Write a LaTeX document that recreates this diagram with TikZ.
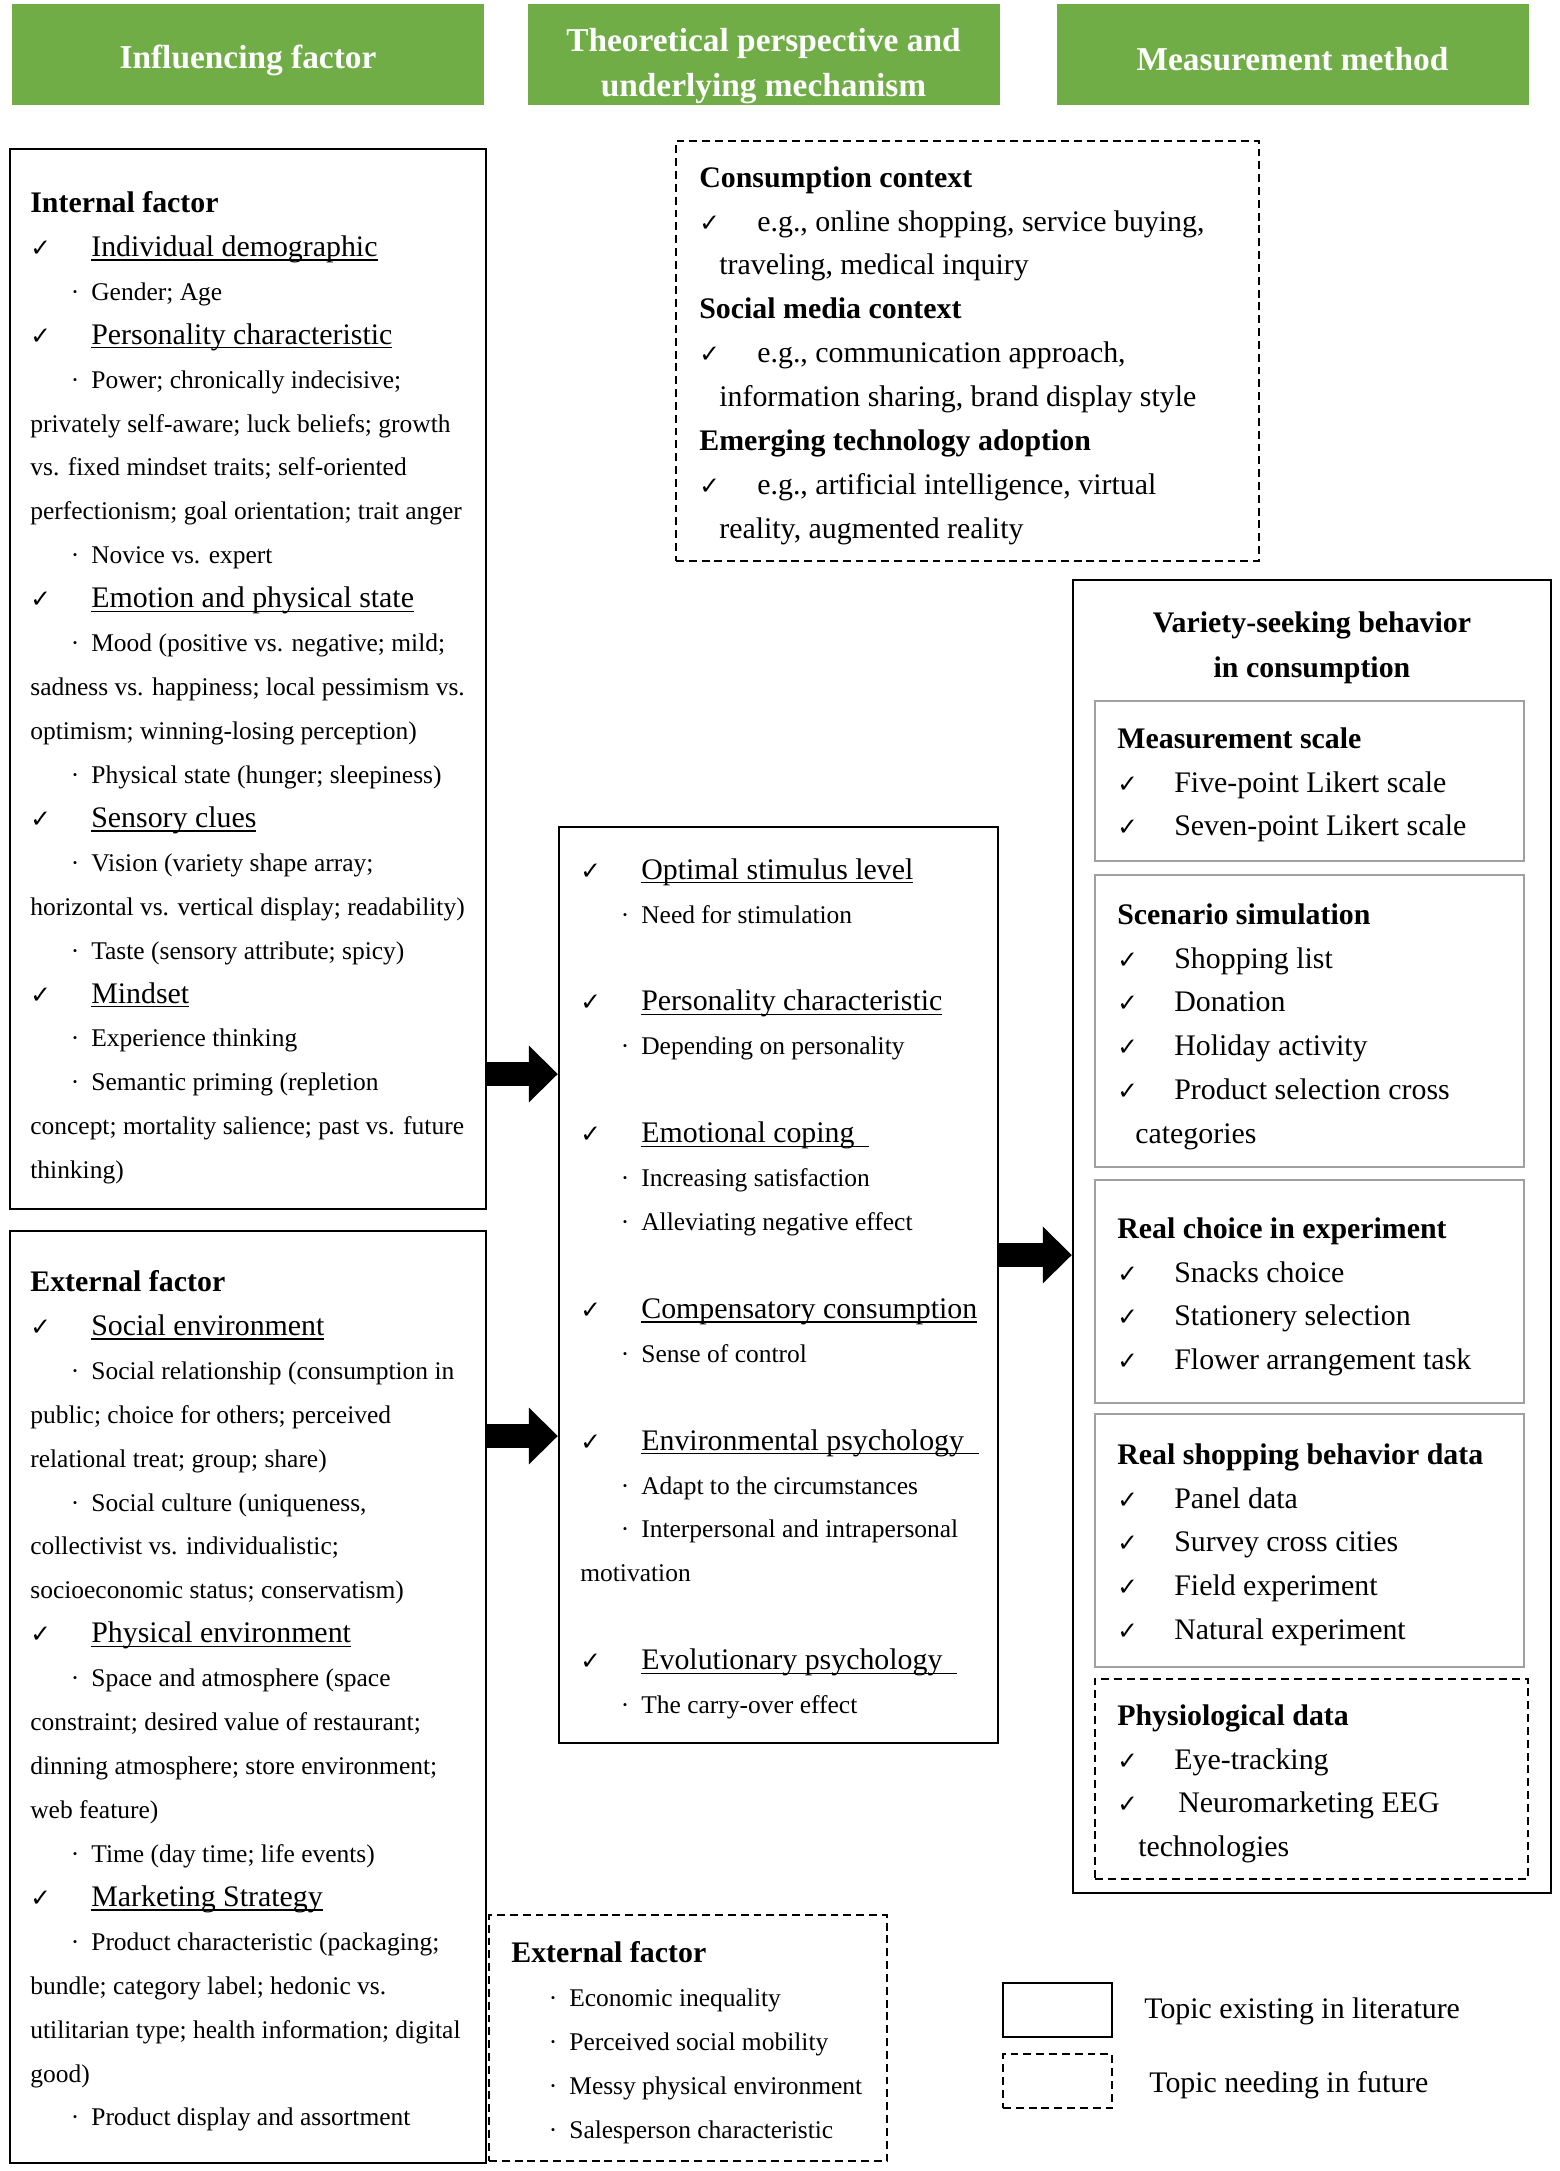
\documentclass[tikz,border=0pt]{standalone}
\usepackage{fontspec}
\setmainfont{Liberation Serif}
\newfontfamily\chkfont{DejaVu Sans}
\usetikzlibrary{fit,arrows.meta}
\definecolor{hdrgreen}{RGB}{112,173,71}
\definecolor{subgray}{RGB}{160,160,160}
\newlength\pxu
\setlength\pxu{0.02cm}
\newsavebox\undlbox
% check mark item, dot item, larger heading text, underline
\newcommand{\undl}[1]{\sbox\undlbox{#1}\rlap{\rule[-2.4pt]{\wd\undlbox}{0.75pt}}\usebox\undlbox}
\newcommand{\ck}[2][61]{\makebox[#1\pxu][l]{\chkfont\fontsize{14}{25}\selectfont ✓}#2}
\newcommand{\bu}[2][61]{\makebox[#1\pxu][r]{·\hspace{12\pxu}}#2}
\newcommand{\hd}[1]{{\fontsize{17}{25}\selectfont #1}}
\newcommand{\uhd}[1]{{\fontsize{17}{25}\selectfont\undl{#1}}}
\tikzset{
  hdr/.style={fill=hdrgreen, text=white, inner sep=0pt, align=center,
    minimum width=472\pxu, minimum height=101\pxu,
    font=\bfseries\fontsize{19}{25.6}\selectfont,
    execute at begin node=\rule{0pt}{#1}},
  hdr/.default=19pt,
  litbox/.style={draw, line width=1.3pt, inner sep=0pt},
  futbox/.style={draw, line width=1.4pt, dash pattern=on 4.5pt off 2.8pt, inner sep=0pt},
  subbox/.style={draw=subgray, line width=1.5pt, inner sep=0pt},
  txt/.style={anchor=north west, inner sep=0pt, align=left,
    font=\fontsize{14.5}{25}\selectfont, execute at begin node=\strut},
  txtl/.style={txt, font=\fontsize{17}{25}\selectfont},
  bigarrow/.style={line width=14.2pt, -{Triangle[length=16.5pt,width=31.3pt]}}
}
\begin{document}
\begin{tikzpicture}[x=0.02cm,y=-0.02cm]
\useasboundingbox (0,0) rectangle (1559,2171);

% column headers
\node[hdr=20pt] (hIF) at (248,54.5) {Influencing factor};
\node[hdr] (hTP) at (763.5,54.5) {\rule{0pt}{26pt}Theoretical perspective and\\underlying mechanism};
\node[hdr] (hMM) at (1292.5,54.5) {Measurement method};

% influencing factors
\node[litbox, fit={(10,149) (486,1209)}] (intbox) {};
\node[txt] (inttxt) at (30,191) {\hd{\bfseries Internal factor}\\
\ck{\uhd{Individual demographic}}\\
\bu{Gender; Age}\\
\ck{\uhd{Personality characteristic}}\\
\bu{Power; chronically indecisive;}\\
privately self-aware; luck beliefs; growth\\
vs. fixed mindset traits; self-oriented\\
perfectionism; goal orientation; trait anger\\
\bu{Novice vs. expert}\\
\ck{\uhd{Emotion and physical state}}\\
\bu{Mood (positive vs. negative; mild;}\\
sadness vs. happiness; local pessimism vs.\\
optimism; winning-losing perception)\\
\bu{Physical state (hunger; sleepiness)}\\
\ck{\uhd{Sensory clues}}\\
\bu{Vision (variety shape array;}\\
horizontal vs. vertical display; readability)\\
\bu{Taste (sensory attribute; spicy)}\\
\ck{\uhd{Mindset}}\\
\bu{Experience thinking}\\
\bu{Semantic priming (repletion}\\
concept; mortality salience; past vs. future\\
thinking)};

\node[litbox, fit={(10,1231) (486,2163)}] (extbox) {};
\node[txt] (exttxt) at (30,1270) {\hd{\bfseries External factor}\\
\ck{\uhd{Social environment}}\\
\bu{Social relationship (consumption in}\\
public; choice for others; perceived\\
relational treat; group; share)\\
\bu{Social culture (uniqueness,}\\
collectivist vs. individualistic;\\
socioeconomic status; conservatism)\\
\ck{\uhd{Physical environment}}\\
\bu{Space and atmosphere (space}\\
constraint; desired value of restaurant;\\
dinning atmosphere; store environment;\\
web feature)\\
\bu{Time (day time; life events)}\\
\ck{\uhd{Marketing Strategy}}\\
\bu{Product characteristic (packaging;}\\
bundle; category label; hedonic vs.\\
utilitarian type; health information; digital\\
good)\\
\bu{Product display and assortment}};

\node[futbox, fit={(489,1915) (887,2161)}] (futext) {};
\node[txt] (futexttxt) at (511,1941) {\hd{\bfseries External factor}\\
\bu[58]{Economic inequality}\\
\bu[58]{Perceived social mobility}\\
\bu[58]{Messy physical environment}\\
\bu[58]{Salesperson characteristic}};

% context and mechanisms
\node[futbox, fit={(676,141) (1259,561)}] (ctxbox) {};
\node[txtl] (ctxtxt) at (699,166) {\textbf{Consumption context}\\
\ck[58]{e.g., online shopping, service buying,}\\
\hspace*{20\pxu}traveling, medical inquiry\\
\textbf{Social media context}\\
\ck[58]{e.g., communication approach,}\\
\hspace*{20\pxu}information sharing, brand display style\\
\textbf{Emerging technology adoption}\\
\ck[58]{e.g., artificial intelligence, virtual}\\
\hspace*{20\pxu}reality, augmented reality};

\node[litbox, fit={(559,827) (998,1743)}] (midbox) {};
\node[txt] (midtxt) at (580,858) {\ck{\uhd{Optimal stimulus level}}\\
\bu[61]{Need for stimulation}\\[25pt]
\ck{\uhd{Personality characteristic}}\\
\bu{Depending on personality}\\[25pt]
\ck{\uhd{Emotional coping\ \ }}\\
\bu{Increasing satisfaction}\\
\bu{Alleviating negative effect}\\[25pt]
\ck{\uhd{Compensatory consumption}}\\
\bu{Sense of control}\\[25pt]
\ck{\uhd{Environmental psychology\ \ }}\\
\bu{Adapt to the circumstances}\\
\bu{Interpersonal and intrapersonal}\\
motivation\\[25pt]
\ck{\uhd{Evolutionary psychology\ \ }}\\
\bu{The carry-over effect}};

% measurement methods
\node[litbox, fit={(1073,580) (1551,1893)}] (vsbbox) {};
\node[txtl, anchor=north, align=center, font=\bfseries\fontsize{17}{25.6}\selectfont] (vsbtxt) at (1312,611) {Variety-seeking behavior\\in consumption};

\node[subbox, fit={(1095,701) (1524,861)}] (scalebox) {};
\node[txtl] (scaletxt) at (1117,727) {\textbf{Measurement scale}\\
\ck[57]{Five-point Likert scale}\\
\ck[57]{Seven-point Likert scale}};

\node[subbox, fit={(1095,875) (1524,1167)}] (scenbox) {};
\node[txtl] (scentxt) at (1117,903) {\textbf{Scenario simulation}\\
\ck[57]{Shopping list}\\
\ck[57]{Donation}\\
\ck[57]{Holiday activity}\\
\ck[57]{Product selection cross}\\
\hspace*{18\pxu}categories};

\node[subbox, fit={(1095,1180) (1524,1403)}] (choicebox) {};
\node[txtl] (choicetxt) at (1117,1217) {\textbf{Real choice in experiment}\\
\ck[57]{Snacks choice}\\
\ck[57]{Stationery selection}\\
\ck[57]{Flower arrangement task}};

\node[subbox, fit={(1095,1414) (1524,1667)}] (shopbox) {};
\node[txtl] (shoptxt) at (1117,1443) {\textbf{Real shopping behavior data}\\
\ck[57]{Panel data}\\
\ck[57]{Survey cross cities}\\
\ck[57]{Field experiment}\\
\ck[57]{Natural experiment}};

\node[futbox, fit={(1095,1679) (1528,1879)}] (physbox) {};
\node[txtl] (phystxt) at (1117,1704) {\textbf{Physiological data}\\
\ck[57]{Eye-tracking}\\
\ck[61]{Neuromarketing EEG}\\
\hspace*{21\pxu}technologies};

% arrows
\coordinate (y1) at (0,1074);
\coordinate (y2) at (0,1436);
\coordinate (y3) at (0,1255);
\draw[bigarrow] (intbox.east |- y1) -- (midbox.west |- y1);
\draw[bigarrow] (extbox.east |- y2) -- (midbox.west |- y2);
\draw[bigarrow] (midbox.east |- y3) -- (vsbbox.west |- y3);

% legend
\node[litbox, minimum width=109\pxu, minimum height=54\pxu] (legold) at (1057.5,2010) {};
\node[futbox, minimum width=109\pxu, minimum height=54\pxu] (legnew) at (1057.5,2081) {};
\node[txtl, anchor=west] (legoldtxt) at (1144,2010) {Topic existing in literature};
\node[txtl, anchor=west] (legnewtxt) at (1149,2084) {Topic needing in future};
\end{tikzpicture}
\end{document}
